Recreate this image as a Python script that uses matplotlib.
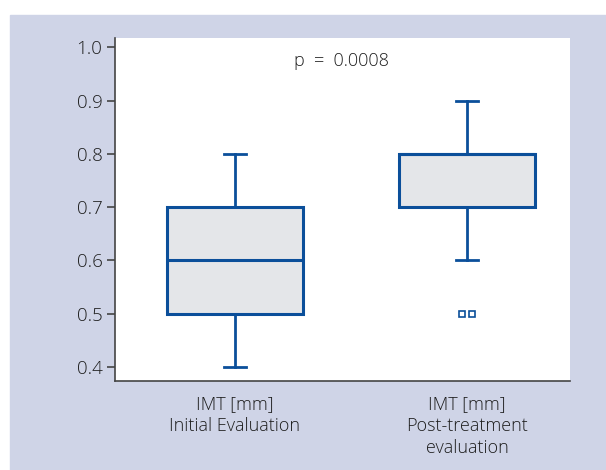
import matplotlib.pyplot as plt
from matplotlib.patches import Rectangle

# box statistics (IMT in mm)
groups = ["IMT [mm]\nInitial Evaluation", "IMT [mm]\nPost-treatment\nevaluation"]
whisker_low = [0.4, 0.6]
q1 = [0.5, 0.7]
median = [0.6, 0.8]
q3 = [0.7, 0.8]
whisker_high = [0.8, 0.9]
outliers = [[], [0.5, 0.5]]
yticks = [0.4, 0.5, 0.6, 0.7, 0.8, 0.9, 1.0]
p_text = "p  =  0.0008"

blue = "#0b4f9a"
fill = "#e4e6e9"
lavender = "#cfd4e7"
textc = "#1e1e1e"

plt.rcParams["font.family"] = ["Open Sans", "DejaVu Sans"]
plt.rcParams["font.weight"] = "light"

fig = plt.figure(figsize=(6.06, 4.70), dpi=100)
fig.patches.append(Rectangle((10 / 606, 0), 596 / 606, 455 / 470,
                             transform=fig.transFigure, color=lavender, zorder=-1))

ax = fig.add_axes([115 / 606, 89 / 470, 455 / 606, 343 / 470])
ax.set_facecolor("white")

stats = []
for i in range(len(groups)):
    stats.append({
        "whislo": whisker_low[i], "q1": q1[i], "med": median[i],
        "q3": q3[i], "whishi": whisker_high[i], "fliers": [],
    })

ax.bxp(stats, positions=[1, 2], widths=0.59, patch_artist=True,
       showfliers=False,
       boxprops=dict(facecolor=fill, edgecolor=blue, linewidth=2.2),
       medianprops=dict(color=blue, linewidth=2.2),
       whiskerprops=dict(color=blue, linewidth=2),
       capprops=dict(color=blue, linewidth=2),
       capwidths=0.095)

# outliers drawn side by side as small hollow squares
for i, pts in enumerate(outliers):
    n = len(pts)
    for k, v in enumerate(pts):
        ax.plot(i + 1 + (k - (n - 1) / 2) * 0.042, v, marker="s", ms=5,
                mfc="white", mec=blue, mew=1.2, ls="none")

ax.set_xlim(0.483, 2.444)
ax.set_ylim(0.3737, 1.0178)
ax.set_yticks(yticks)
ax.set_yticklabels([f"{t:.1f}" for t in yticks])
ax.set_xticks([1, 2])
ax.set_xticklabels(groups, linespacing=1.3)

for side in ["top", "right"]:
    ax.spines[side].set_visible(False)
for side in ["left", "bottom"]:
    ax.spines[side].set_color("#444444")
    ax.spines[side].set_linewidth(1.2)

ax.tick_params(axis="y", length=6, width=1.2, color="#444444",
               labelsize=13.5, labelcolor=textc, pad=3)
ax.tick_params(axis="x", length=0, labelsize=13, labelcolor=textc, pad=10)

ax.text(1.46, 0.975, p_text, ha="center", va="center", fontsize=13,
        color=textc)

fig.savefig("out.png", dpi=100)
